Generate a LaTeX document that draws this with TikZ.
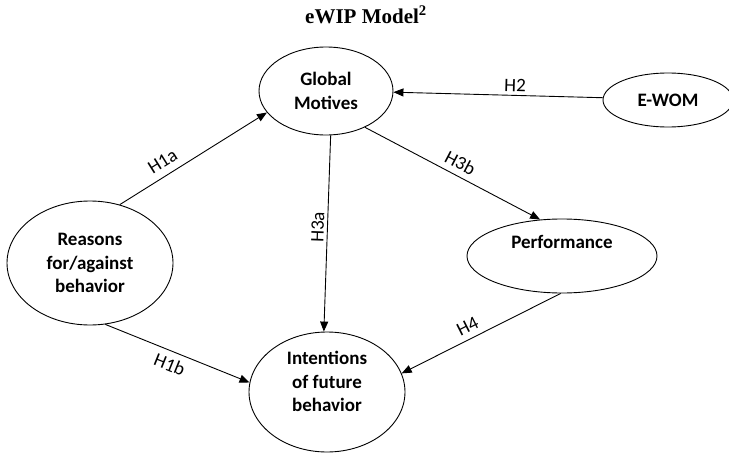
\documentclass[tikz,border=0pt]{standalone}
\usepackage{fontspec}
\setmainfont{Carlito}
\newfontfamily\titlefont{Liberation Serif}
\usetikzlibrary{shapes.geometric,arrows.meta}
\tikzset{
  construct/.style={draw=black, line width=0.9pt, ellipse, inner sep=0pt, align=center,
    font=\fontsize{19}{23.5}\selectfont\bfseries},
  hyp/.style={draw=black, line width=0.9pt, -{Triangle[length=10pt,width=8pt]}},
  hlabel/.style={font=\fontsize{19}{20}\selectfont, sloped, inner sep=2pt}
}
\begin{document}
\begin{tikzpicture}[x=1pt,y=-1pt]
\useasboundingbox (0,0) rectangle (729,455);
\clip (0,0) rectangle (729,455);
\node[font=\titlefont\fontsize{21}{24}\selectfont\bfseries] (title) at (366,15) {eWIP Model\textsuperscript{2}};
\node[construct, minimum width=134pt, minimum height=88pt] (gm) at (326,91) {Global\\Motives};
\node[construct, minimum width=130pt, minimum height=54pt] (ew) at (668,100) {E-WOM};
\node[construct, minimum width=166pt, minimum height=124pt] (rs) at (90,263) {Reasons\\for/against\\behavior};
\node[construct, minimum width=190pt, minimum height=74pt] (pf) at (562,256) {Performance\\[4pt]};
\node[construct, minimum width=156pt, minimum height=120pt] (it) at (327,392) {Intentions\\of future\\behavior\\[-3pt]};
\draw[hyp] (ew.178) -- node[hlabel, above=1pt, pos=0.42] {H2} (gm.-1);
\draw[hyp] (rs.63) -- node[hlabel, above=5pt, pos=0.34] {H1a} (gm.200);
\draw[hyp] (rs.-76) -- node[hlabel, below=4pt, pos=0.48] {H1b} (it.173);
\draw[hyp] (gm.-84) -- node[hlabel, above=1pt, pos=0.47] {H3a} (it.93);
\draw[hyp] (gm.-43) -- node[hlabel, above=4pt, pos=0.51] {H3b} (pf.121);
\draw[hyp] (pf.-92) -- node[hlabel, above=4pt, pos=0.55] {H4} (it.14);
\end{tikzpicture}
\end{document}
